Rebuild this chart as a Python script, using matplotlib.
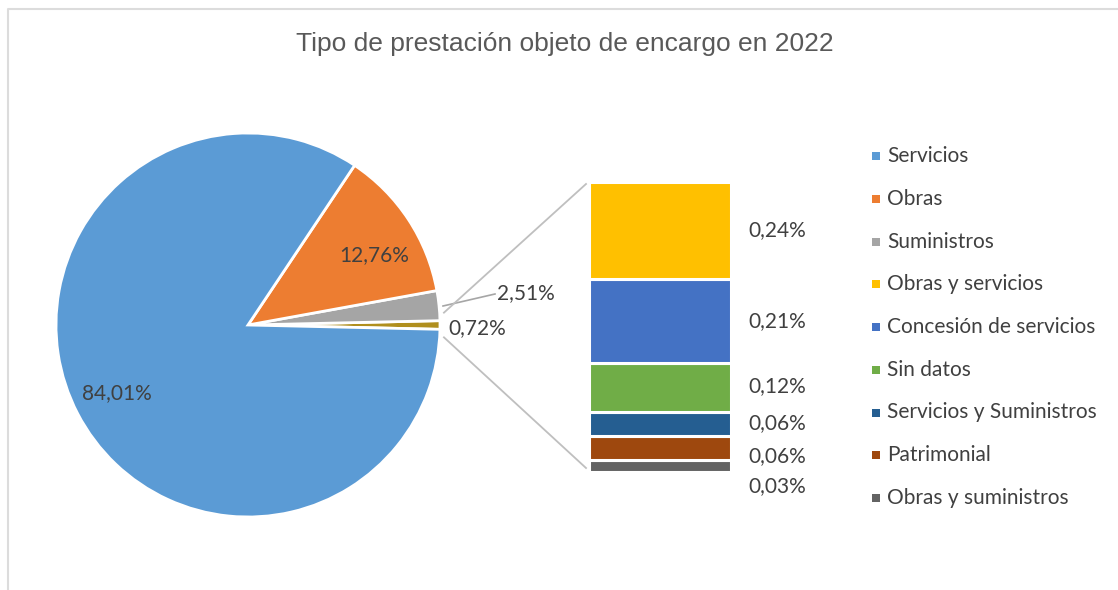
import matplotlib
matplotlib.use("Agg")
import matplotlib.pyplot as plt
import numpy as np

# ---- data ----
title = "Tipo de prestación objeto de encargo en 2022"
pie_labels = ["Servicios", "Obras", "Suministros", "Otros"]
pie_values = [84.01, 12.76, 2.51, 0.72]
pie_colors = ["#5B9BD5", "#ED7D31", "#A5A5A5", "#B08F1E"]

bar_labels = ["Obras y servicios", "Concesión de servicios", "Sin datos",
              "Servicios y Suministros", "Patrimonial", "Obras y suministros"]
bar_values = [0.24, 0.21, 0.12, 0.06, 0.06, 0.03]
bar_colors = ["#FFC000", "#4472C4", "#70AD47", "#255E91", "#9E480E", "#636363"]

legend_labels = ["Servicios", "Obras", "Suministros"] + bar_labels
legend_colors = pie_colors[:3] + bar_colors

W, H = 1118, 590
fig = plt.figure(figsize=(W / 100, H / 100), dpi=100)
ax = fig.add_axes([0, 0, 1, 1])
ax.set_xlim(0, W)
ax.set_ylim(0, H)
ax.set_aspect("equal")
ax.axis("off")

LBL = "Lato"
TXT = "#404040"
FS = 15

def Y(y):  # image y -> axes y
    return H - y

# frame
ax.plot([8, 8, W], [Y(H), Y(9), Y(9)], color="#DCDCDC", lw=1.5)

# title
ax.text(565, Y(44), title, ha="center", va="center", fontsize=19,
        family="Liberation Sans", color="#595959")

# pie (order: others, suministros, obras, servicios counterclockwise)
cx, cy, r = 248, Y(325), 192
order = [3, 2, 1, 0]
vals = [pie_values[i] for i in order]
cols = [pie_colors[i] for i in order]
start = -pie_values[3] * 3.6 / 2
wedges, _ = ax.pie(vals, colors=cols, startangle=start, counterclock=True,
                   center=(cx, cy), radius=r, frame=True,
                   wedgeprops=dict(edgecolor="white", linewidth=2))
ax.set_xlim(0, W)
ax.set_ylim(0, H)
ax.axis("off")

# pie labels
ax.text(374, Y(255), "12,76%", ha="center", va="center", fontsize=FS,
        family=LBL, color=TXT)
ax.text(117, Y(393), "84,01%", ha="center", va="center", fontsize=FS,
        family=LBL, color=TXT)
ax.text(526, Y(293), "2,51%", ha="center", va="center", fontsize=FS,
        family=LBL, color=TXT)
ax.plot([443, 495], [Y(306), Y(294)], color="#A6A6A6", lw=1.2)
ax.text(477, Y(328), "0,72%", ha="center", va="center", fontsize=FS,
        family=LBL, color=TXT)

# bar axes
bx0, bx1, by0, by1 = 589, 731, 182, 472
bax = fig.add_axes([bx0 / W, (H - by1) / H, (bx1 - bx0) / W, (by1 - by0) / H])
bottom = 0.0
for v, c in zip(bar_values[::-1], bar_colors[::-1]):
    bax.bar(0, v, bottom=bottom, width=1.0, color=c, edgecolor="white", linewidth=2.2)
    bottom += v
bax.set_xlim(-0.5, 0.5)
bax.set_ylim(0, sum(bar_values))
bax.axis("off")

# bar labels (top to bottom)
label_y = [230, 321, 386, 423, 456, 486]
for v, yy in zip(bar_values, label_y):
    ax.text(748, Y(yy), f"{v:.2f}%".replace(".", ","), ha="left", va="center",
            fontsize=FS, family=LBL, color=TXT)

# connector lines
a = np.deg2rad(pie_values[3] * 3.6 / 2)
ax.plot([cx + r * np.cos(a) + 4, bx0 - 3], [cy + r * np.sin(a) + 8, Y(184)],
        color="#BFBFBF", lw=1.3)
ax.plot([cx + r * np.cos(a) + 4, bx0 - 3], [cy - r * np.sin(a) - 8, Y(468)],
        color="#BFBFBF", lw=1.3)

# legend
for i, (lab, c) in enumerate(zip(legend_labels, legend_colors)):
    yy = Y(156 + i * 42.75)
    ax.scatter([876], [yy], marker="s", s=30, color=c, linewidths=0)
    ax.text(887, yy, lab, ha="left", va="center", fontsize=FS, family=LBL,
            color=TXT)

fig.savefig("out.png", dpi=100, facecolor="white")
